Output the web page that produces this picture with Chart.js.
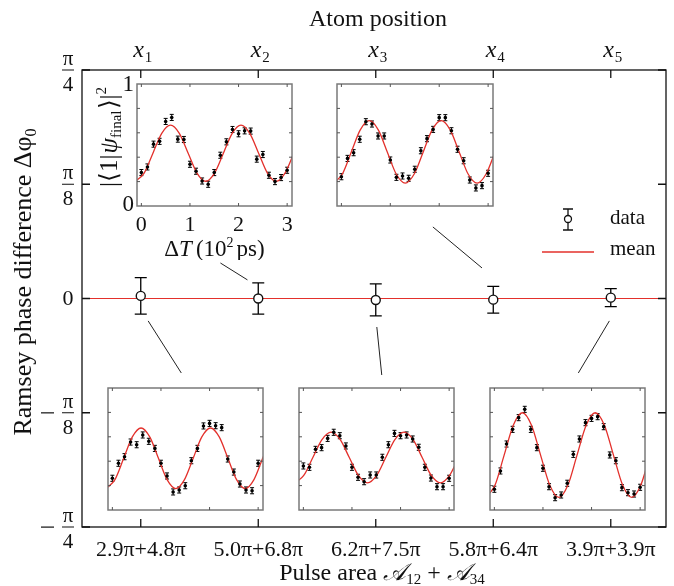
<!DOCTYPE html>
<html>
<head>
<meta charset="utf-8">
<script src="https://cdn.jsdelivr.net/npm/chart.js@4.4.0/dist/chart.umd.min.js"></script>
<style>
  html, body { margin: 0; padding: 0; background: #fff; }
  #wrap { position: relative; width: 674px; height: 586px; overflow: hidden; }
  #wrap canvas { position: absolute; }
</style>
</head>
<body>
<div id="wrap">
  <canvas id="main" width="674" height="586" style="left:0;top:0;"></canvas>
</div>
<script>
// ---- main panel data ----
const positions     = [1, 2, 3, 4, 5];
const positionSubs  = ['1', '2', '3', '4', '5'];
const pulseLabels   = ['2.9π+4.8π', '5.0π+6.8π', '6.2π+7.5π', '5.8π+6.4π', '3.9π+3.9π'];
const phaseDiff     = [0.009, 0.000, -0.005, -0.004, 0.003];   // rad
const phaseErr      = [0.063, 0.054, 0.055, 0.046, 0.031];
const phaseMean     = 0.0;
const yTickVals     = [-Math.PI / 4, -Math.PI / 8, 0, Math.PI / 8, Math.PI / 4];
const yTickDen      = ['4', '8', '', '8', '4'];

// ---- inset data: |<1|psi_final>|^2 vs delay (10^2 ps) ----
const delayT = [0, 0.125, 0.25, 0.375, 0.5, 0.625, 0.75, 0.875, 1, 1.125, 1.25, 1.375,
                1.5, 1.625, 1.75, 1.875, 2, 2.125, 2.25, 2.375, 2.5, 2.625, 2.75, 2.875, 3];
const insetErr = 0.025;

const popX1 = [0.26, 0.383, 0.437, 0.557, 0.535, 0.615, 0.563, 0.505, 0.383, 0.279, 0.148, 0.164, 0.199,
               0.404, 0.505, 0.689, 0.71, 0.691, 0.675, 0.418, 0.311, 0.213, 0.164, 0.158, 0.383];
const popX2 = [0.274, 0.32, 0.507, 0.53, 0.693, 0.726, 0.548, 0.545, 0.342, 0.285, 0.205, 0.178, 0.274,
               0.416, 0.526, 0.627, 0.592, 0.616, 0.614, 0.384, 0.422, 0.252, 0.2, 0.233, 0.293];
const popX3 = [0.361, 0.35, 0.497, 0.511, 0.587, 0.637, 0.609, 0.525, 0.35, 0.268, 0.232, 0.287, 0.287,
               0.432, 0.535, 0.628, 0.609, 0.615, 0.582, 0.514, 0.35, 0.262, 0.191, 0.191, 0.26];
const popX4 = [0.24, 0.39, 0.437, 0.547, 0.691, 0.672, 0.574, 0.574, 0.377, 0.235, 0.246, 0.227, 0.301,
               0.453, 0.552, 0.628, 0.724, 0.724, 0.617, 0.465, 0.371, 0.213, 0.148, 0.167, 0.268];
const popX5 = [0.17, 0.32, 0.541, 0.661, 0.757, 0.825, 0.661, 0.511, 0.342, 0.191, 0.101, 0.123, 0.219,
               0.456, 0.582, 0.716, 0.751, 0.765, 0.683, 0.451, 0.404, 0.183, 0.142, 0.131, 0.186];

const fitX1T = [-0.126, 0.053, 0.233, 0.411, 0.59, 0.769, 0.948, 1.126, 1.305, 1.484, 1.663, 1.841, 2.02, 2.199, 2.378, 2.556, 2.735, 2.914, 3.093, 3.272];
const fitX1  = [0.176, 0.249, 0.424, 0.599, 0.672, 0.599, 0.424, 0.249, 0.176, 0.249, 0.424, 0.599, 0.672, 0.599, 0.424, 0.249, 0.176, 0.249, 0.424, 0.599];
const fitX2T = [-0.124, 0.057, 0.238, 0.419, 0.6, 0.781, 0.963, 1.144, 1.325, 1.506, 1.688, 1.869, 2.05, 2.231, 2.413, 2.594, 2.775, 2.956, 3.138];
const fitX2  = [0.203, 0.27, 0.433, 0.596, 0.663, 0.596, 0.433, 0.27, 0.203, 0.27, 0.433, 0.596, 0.663, 0.596, 0.433, 0.27, 0.203, 0.27, 0.433];
const fitX3T = [-0.18, 0.008, 0.195, 0.383, 0.57, 0.758, 0.945, 1.133, 1.32, 1.508, 1.695, 1.883, 2.07, 2.258, 2.445, 2.633, 2.82, 3.008, 3.195];
const fitX3  = [0.222, 0.283, 0.43, 0.577, 0.638, 0.577, 0.43, 0.283, 0.222, 0.283, 0.43, 0.577, 0.638, 0.577, 0.43, 0.283, 0.222, 0.283, 0.43];
const fitX4T = [-0.165, 0.019, 0.203, 0.386, 0.57, 0.754, 0.938, 1.121, 1.305, 1.489, 1.673, 1.856, 2.04, 2.224, 2.408, 2.591, 2.775, 2.959, 3.143];
const fitX4  = [0.187, 0.262, 0.443, 0.624, 0.699, 0.624, 0.443, 0.262, 0.187, 0.262, 0.443, 0.624, 0.699, 0.624, 0.443, 0.262, 0.187, 0.262, 0.443];
const fitX5T = [-0.174, 0.014, 0.201, 0.389, 0.576, 0.764, 0.951, 1.139, 1.326, 1.514, 1.701, 1.889, 2.076, 2.264, 2.451, 2.639, 2.826, 3.014, 3.201];
const fitX5  = [0.103, 0.205, 0.45, 0.695, 0.797, 0.695, 0.45, 0.205, 0.103, 0.205, 0.45, 0.695, 0.797, 0.695, 0.45, 0.205, 0.103, 0.205, 0.45];

// connector lines inset -> data point, in main-axis units [x0, y0, x1, y1]
const connectors = [
  [1.678, 0.122, 1.908, 0.064],
  [3.486, 0.246, 3.904, 0.105],
  [1.063, -0.077, 1.345, -0.256],
  [3.009, -0.098, 3.051, -0.263],
  [4.988, -0.077, 4.724, -0.256],
];

const FONT = '"Liberation Serif", "Times New Roman", serif';
const RED = '#e3302b';

// draw text made of pieces (sub/superscripts), baseline at y
function drawRich(ctx, parts, x, y, align) {
  let total = 0;
  parts.forEach(p => {
    ctx.font = (p.italic ? 'italic ' : '') + p.size + 'px ' + FONT;
    p.w = ctx.measureText(p.text).width + (p.gap || 0);
    total += p.w;
  });
  let cx = align === 'center' ? x - total / 2 : align === 'right' ? x - total : x;
  ctx.textAlign = 'left';
  ctx.textBaseline = 'alphabetic';
  parts.forEach(p => {
    ctx.font = (p.italic ? 'italic ' : '') + p.size + 'px ' + FONT;
    ctx.fillText(p.text, cx, y + (p.dy || 0));
    cx += p.w;
  });
}

// ── Main panel decorations ─────────────────────────────
const mainDecor = {
  id: 'mainDecor',
  beforeDatasetsDraw(chart) {
    const { ctx, scales: { x, y } } = chart;
    ctx.save();
    ctx.strokeStyle = '#000';
    ctx.lineWidth = 1.3;
    positions.forEach((p, i) => {
      const px = x.getPixelForValue(p);
      const y1 = y.getPixelForValue(phaseDiff[i] + phaseErr[i]);
      const y2 = y.getPixelForValue(phaseDiff[i] - phaseErr[i]);
      ctx.beginPath();
      ctx.moveTo(px, y1); ctx.lineTo(px, y2);
      ctx.moveTo(px - 6, y1); ctx.lineTo(px + 6, y1);
      ctx.moveTo(px - 6, y2); ctx.lineTo(px + 6, y2);
      ctx.stroke();
    });
    ctx.lineWidth = 1;
    ctx.strokeStyle = '#222';
    connectors.forEach(c => {
      ctx.beginPath();
      ctx.moveTo(x.getPixelForValue(c[0]), y.getPixelForValue(c[1]));
      ctx.lineTo(x.getPixelForValue(c[2]), y.getPixelForValue(c[3]));
      ctx.stroke();
    });
    ctx.restore();
  },
  afterDraw(chart) {
    const { ctx, chartArea: a, scales: { x, y } } = chart;
    ctx.save();
    ctx.strokeStyle = '#111';
    ctx.lineWidth = 1.3;
    ctx.strokeRect(a.left, a.top, a.right - a.left, a.bottom - a.top);

    // inward ticks
    ctx.beginPath();
    positions.forEach(p => {
      const px = x.getPixelForValue(p);
      ctx.moveTo(px, a.top); ctx.lineTo(px, a.top + 8);
      ctx.moveTo(px, a.bottom); ctx.lineTo(px, a.bottom - 8);
    });
    yTickVals.forEach(v => {
      const py = y.getPixelForValue(v);
      ctx.moveTo(a.left, py); ctx.lineTo(a.left + 8, py);
      ctx.moveTo(a.right, py); ctx.lineTo(a.right - 8, py);
    });
    ctx.stroke();

    ctx.fillStyle = '#111';
    // bottom tick labels
    ctx.font = '22px ' + FONT;
    ctx.textAlign = 'center';
    ctx.textBaseline = 'alphabetic';
    positions.forEach((p, i) => ctx.fillText(pulseLabels[i], x.getPixelForValue(p), 556));

    // top tick labels x_i
    positions.forEach((p, i) => {
      drawRich(ctx, [
        { text: 'x', size: 24, italic: true, gap: 1 },
        { text: positionSubs[i], size: 15, dy: 5 },
      ], x.getPixelForValue(p) + 2, 57, 'center');
    });

    // y tick labels as fractions
    const fx = 68;
    yTickVals.forEach((v, i) => {
      const py = y.getPixelForValue(v);
      ctx.textAlign = 'center';
      if (!yTickDen[i]) {
        ctx.font = '22px ' + FONT;
        ctx.textBaseline = 'middle';
        ctx.fillText('0', fx, py + 1);
        return;
      }
      ctx.font = '21px ' + FONT;
      ctx.textBaseline = 'alphabetic';
      ctx.fillText('π', fx, py - 5);
      ctx.textBaseline = 'top';
      ctx.fillText(yTickDen[i], fx, py + 5);
      ctx.fillRect(fx - 6, py - 0.5, 12, 1);
      if (v < 0) ctx.fillRect(fx - 27, py - 0.5, 13, 1.2);
    });

    // axis titles
    ctx.textBaseline = 'alphabetic';
    drawRich(ctx, [{ text: 'Atom position', size: 24 }], (a.left + a.right) / 2 + 4, 26, 'center');
    drawRich(ctx, [
      { text: 'Pulse area ', size: 24 },
      { text: '𝒜', size: 24, italic: true },
      { text: '12', size: 15, dy: 4, gap: 6 },
      { text: '+ ', size: 24 },
      { text: '𝒜', size: 24, italic: true },
      { text: '34', size: 15, dy: 4 },
    ], (a.left + a.right) / 2 + 8, 580, 'center');
    ctx.save();
    ctx.translate(31, 282);
    ctx.rotate(-Math.PI / 2);
    drawRich(ctx, [
      { text: 'Ramsey phase difference Δφ', size: 26 },
      { text: '0', size: 16, dy: 5 },
    ], 0, 0, 'center');
    ctx.restore();

    // legend
    ctx.lineWidth = 1.3;
    ctx.strokeStyle = '#111';
    const lx = 568, ly = 219;
    ctx.beginPath();
    ctx.moveTo(lx, ly - 10); ctx.lineTo(lx, ly + 11);
    ctx.moveTo(lx - 5, ly - 10); ctx.lineTo(lx + 5, ly - 10);
    ctx.moveTo(lx - 5, ly + 11); ctx.lineTo(lx + 5, ly + 11);
    ctx.stroke();
    ctx.beginPath();
    ctx.fillStyle = '#fff';
    ctx.arc(lx, ly, 3.5, 0, Math.PI * 2);
    ctx.fill(); ctx.stroke();
    ctx.strokeStyle = RED;
    ctx.lineWidth = 1.4;
    ctx.beginPath();
    ctx.moveTo(542, 252); ctx.lineTo(594, 252);
    ctx.stroke();
    ctx.fillStyle = '#111';
    ctx.font = '21px ' + FONT;
    ctx.textAlign = 'left';
    ctx.textBaseline = 'middle';
    ctx.fillText('data', 610, 218);
    ctx.fillText('mean', 610, 249);
    ctx.restore();
  }
};

new Chart(document.getElementById('main'), {
  type: 'scatter',
  data: {
    datasets: [
      {
        label: 'data',
        data: positions.map((p, i) => ({ x: p, y: phaseDiff[i] })),
        pointRadius: 4.5,
        pointBorderWidth: 1.4,
        pointBorderColor: '#111',
        pointBackgroundColor: '#fff',
        order: 0,
      },
      {
        label: 'mean',
        data: [{ x: 0.5, y: phaseMean }, { x: 5.47, y: phaseMean }],
        showLine: true,
        borderColor: RED,
        borderWidth: 1.1,
        pointRadius: 0,
        order: 1,
      },
    ],
  },
  options: {
    responsive: false,
    animation: false,
    devicePixelRatio: 1,
    events: [],
    layout: { padding: { left: 82, top: 70, right: 8, bottom: 59 } },
    plugins: { legend: { display: false }, tooltip: { enabled: false } },
    scales: {
      x: { type: 'linear', min: 0.5, max: 5.47, display: false },
      y: { type: 'linear', min: -Math.PI / 4, max: Math.PI / 4, display: false },
    },
  },
  plugins: [mainDecor],
});

// ── Insets ─────────────────────────────────────────────
function makeInset(frame, pop, fitT, fit, labelled) {
  const pad = labelled ? { left: 47, top: 18, right: 10, bottom: 54 } : { left: 4, top: 4, right: 4, bottom: 4 };
  const cv = document.createElement('canvas');
  cv.width = frame.w + pad.left + pad.right;
  cv.height = frame.h + pad.top + pad.bottom;
  cv.style.left = (frame.left - pad.left) + 'px';
  cv.style.top = (frame.top - pad.top) + 'px';
  document.getElementById('wrap').appendChild(cv);

  const decor = {
    id: 'insetDecor',
    beforeDatasetsDraw(chart) {
      const { ctx, scales: { x, y } } = chart;
      ctx.save();
      ctx.strokeStyle = '#000';
      ctx.lineWidth = 1;
      delayT.forEach((t, i) => {
        const px = x.getPixelForValue(t);
        const y1 = y.getPixelForValue(pop[i] + insetErr);
        const y2 = y.getPixelForValue(pop[i] - insetErr);
        ctx.beginPath();
        ctx.moveTo(px, y1); ctx.lineTo(px, y2);
        ctx.moveTo(px - 2, y1); ctx.lineTo(px + 2, y1);
        ctx.moveTo(px - 2, y2); ctx.lineTo(px + 2, y2);
        ctx.stroke();
      });
      ctx.restore();
    },
    afterDraw(chart) {
      const { ctx, chartArea: a, scales: { x, y } } = chart;
      ctx.save();
      ctx.strokeStyle = '#7a7a7a';
      ctx.lineWidth = 1.5;
      ctx.strokeRect(a.left, a.top, a.right - a.left, a.bottom - a.top);
      ctx.lineWidth = 1;
      ctx.strokeStyle = '#555';
      ctx.beginPath();
      [0, 1, 2, 3].forEach(t => {
        const px = x.getPixelForValue(t);
        ctx.moveTo(px, a.top); ctx.lineTo(px, a.top + 3);
        ctx.moveTo(px, a.bottom); ctx.lineTo(px, a.bottom - 3);
      });
      [0.2, 0.4, 0.6, 0.8].forEach(v => {
        const py = y.getPixelForValue(v);
        ctx.moveTo(a.left, py); ctx.lineTo(a.left + 3, py);
        ctx.moveTo(a.right, py); ctx.lineTo(a.right - 3, py);
      });
      ctx.stroke();

      if (labelled) {
        ctx.fillStyle = '#111';
        ctx.font = '23px ' + FONT;
        ctx.textAlign = 'right';
        ctx.textBaseline = 'middle';
        ctx.fillText('1', a.left - 3, y.getPixelForValue(1) + 1);
        ctx.fillText('0', a.left - 3, y.getPixelForValue(0) - 1);
        ctx.textAlign = 'center';
        ctx.textBaseline = 'top';
        ctx.font = '22px ' + FONT;
        [0, 1, 2, 3].forEach(t => ctx.fillText(String(t), x.getPixelForValue(t), a.bottom + 8));
        drawRich(ctx, [
          { text: 'Δ', size: 23 },
          { text: 'T', size: 23, italic: true, gap: 4 },
          { text: '(10', size: 23 },
          { text: '2', size: 14, dy: -9, gap: 3 },
          { text: 'ps)', size: 23 },
        ], (a.left + a.right) / 2, a.bottom + 50, 'center');
        ctx.save();
        ctx.translate(a.left - 20, (a.top + a.bottom) / 2 - 8);
        ctx.rotate(-Math.PI / 2);
        drawRich(ctx, [
          { text: '|⟨1|', size: 25, gap: 1 },
          { text: 'ψ', size: 25, italic: true },
          { text: 'final', size: 15, dy: 4, gap: 1 },
          { text: '⟩|', size: 25 },
          { text: '2', size: 15, dy: -11 },
        ], 0, 0, 'center');
        ctx.restore();
      }
      ctx.restore();
    }
  };

  new Chart(cv, {
    type: 'scatter',
    data: {
      datasets: [
        {
          data: delayT.map((t, i) => ({ x: t, y: pop[i] })),
          pointRadius: 1.8,
          pointBorderWidth: 0,
          pointBackgroundColor: '#000',
          order: 0,
        },
        {
          data: fitT.map((t, i) => ({ x: t, y: fit[i] })),
          showLine: true,
          borderColor: RED,
          borderWidth: 1.3,
          pointRadius: 0,
          cubicInterpolationMode: 'monotone',
          order: 1,
        },
      ],
    },
    options: {
      responsive: false,
      animation: false,
      devicePixelRatio: 1,
      events: [],
      layout: { padding: pad },
      plugins: { legend: { display: false }, tooltip: { enabled: false } },
      scales: {
        x: { type: 'linear', min: -0.09, max: 3.1, display: false },
        y: { type: 'linear', min: 0, max: 1, display: false },
      },
    },
    plugins: [decor],
  });
}

makeInset({ left: 137, top: 84,  w: 155, h: 122 }, popX2, fitX2T, fitX2, true);
makeInset({ left: 337, top: 84,  w: 156, h: 122 }, popX4, fitX4T, fitX4, false);
makeInset({ left: 108, top: 388, w: 155, h: 122 }, popX1, fitX1T, fitX1, false);
makeInset({ left: 299, top: 388, w: 155, h: 122 }, popX3, fitX3T, fitX3, false);
makeInset({ left: 490, top: 388, w: 155, h: 122 }, popX5, fitX5T, fitX5, false);
</script>
</body>
</html>
